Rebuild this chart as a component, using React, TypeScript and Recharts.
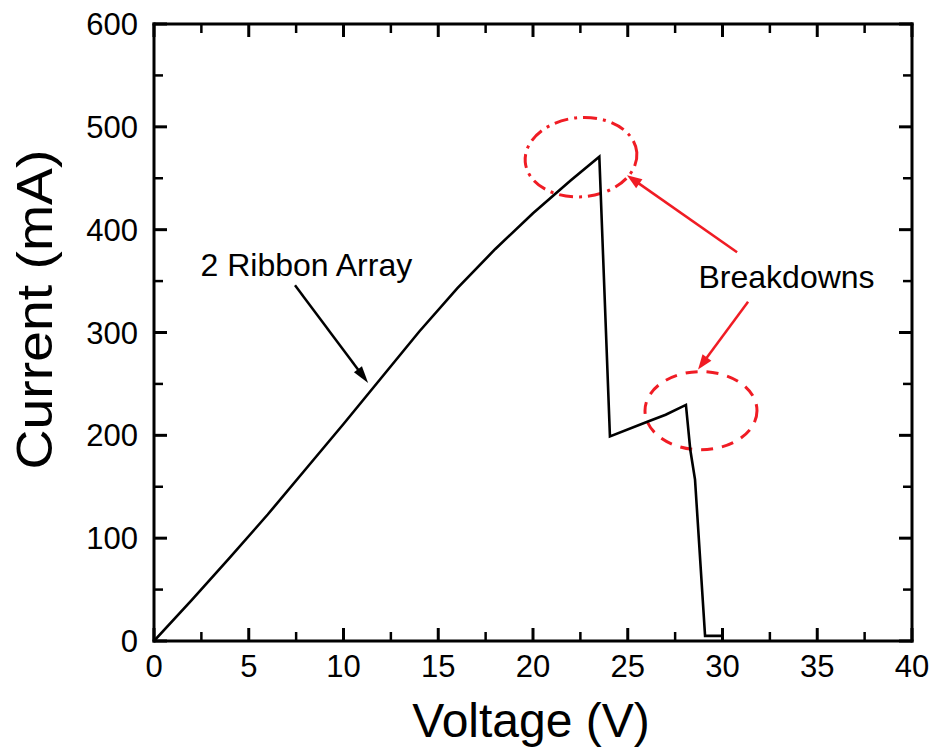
import React from 'react';
import { LineChart, Line, XAxis, YAxis, ReferenceLine, ReferenceArea, ReferenceDot, Label } from 'recharts';

const voltage = [0, 2, 4, 6, 8, 10, 12, 14, 16, 18, 20, 22, 23.5, 24.06, 26, 27, 28.07, 28.3, 28.55, 29.08, 30];
const current = [0, 40, 81, 123, 167, 211, 256, 301, 343, 381, 416, 448, 471, 199, 213, 220, 229.6, 186, 157, 5, 5];

const xMajorTicks = [0, 5, 10, 15, 20, 25, 30, 35, 40];
const xMinorTicks = [2.5, 7.5, 12.5, 17.5, 22.5, 27.5, 32.5, 37.5];
const yMajorTicks = [0, 100, 200, 300, 400, 500, 600];
const yMinorTicks = [50, 150, 250, 350, 450, 550];

const xTitle = 'Voltage (V)';
const yTitle = 'Current (mA)';
const seriesNote = '2 Ribbon Array';
const breakNote = 'Breakdowns';

// annotation anchors (data units: volts, mA)
const seriesNoteAt = { v: 8.04, i: 355 };
const breakNoteAt = { v: 33.38, i: 343 };
const seriesArrow = [{ x: 7.44, y: 346 }, { x: 11.3, y: 251 }];
const breakArrow1 = [{ x: 30.77, y: 378 }, { x: 24.96, y: 453 }];
const breakArrow2 = [{ x: 31.35, y: 330 }, { x: 28.71, y: 264 }];
const ellipse1 = { x1: 19.58, x2: 25.49, y1: 432, y2: 509 };
const ellipse2 = { x1: 25.91, x2: 31.82, y1: 186, y2: 262 };

const data = voltage.map((v, k) => ({ v, i: current[k] }));

const FONT = '"Liberation Sans", Arial, sans-serif';
const RED = '#f01c24';

const arrowShape = (color: string, headLen: number, headHalf: number, w: number) => (p: any) => {
  const { x1, y1, x2, y2 } = p;
  const dx = x2 - x1, dy = y2 - y1;
  const len = Math.hypot(dx, dy) || 1;
  const ux = dx / len, uy = dy / len;
  const bx = x2 - ux * headLen, by = y2 - uy * headLen;
  const px = -uy * headHalf, py = ux * headHalf;
  return (
    <g>
      <line x1={x1} y1={y1} x2={bx + ux * 2} y2={by + uy * 2} stroke={color} strokeWidth={w} />
      <polygon points={`${x2},${y2} ${bx + px},${by + py} ${bx - px},${by - py}`} fill={color} />
    </g>
  );
};

const ellipseShape = (dash: string, tilt: number) => (p: any) => {
  const { x, y, width, height } = p;
  const cx = x + width / 2, cy = y + height / 2;
  return (
    <ellipse cx={cx} cy={cy} rx={Math.abs(width) / 2} ry={Math.abs(height) / 2}
      transform={`rotate(${tilt} ${cx} ${cy})`}
      fill="none" stroke={RED} strokeWidth={3} strokeDasharray={dash} />
  );
};

const textShape = (txt: string) => (p: any) => (
  <text x={p.cx} y={p.cy} textAnchor="middle" fontFamily={FONT} fontSize={32} fill="#000">{txt}</text>
);

const noLabel = () => <g />;
const axisLine = { stroke: '#000', strokeWidth: 3, strokeLinecap: 'square' as const };
const majorTick = { stroke: '#000', strokeWidth: 3 };
const minorTick = { stroke: '#000', strokeWidth: 2.5 };
const tickFont = { fill: '#000', fontSize: 31, fontFamily: FONT };
const hiddenLine = { stroke: 'none', dot: false, isAnimationActive: false, dataKey: 'i', legendType: 'none' as const };

export default function App() {
  return (
    <div style={{ width: 921, height: 743, background: '#fff' }}>
      <LineChart width={921} height={743} data={data} margin={{ top: 16, right: 17, left: 0, bottom: 0 }}>
        {/* tick-only axes (inward ticks, frame) */}
        <XAxis xAxisId="bMaj" dataKey="v" orientation="bottom" mirror height={1} type="number" domain={[0, 40]} allowDataOverflow
          ticks={xMajorTicks} tick={noLabel} tickSize={13} tickLine={majorTick} axisLine={false} interval={0} />
        <XAxis xAxisId="bMin" dataKey="v" orientation="bottom" mirror height={1} type="number" domain={[0, 40]} allowDataOverflow
          ticks={xMinorTicks} tick={noLabel} tickSize={8} tickLine={minorTick} axisLine={false} interval={0} />
        <XAxis xAxisId="tMaj" dataKey="v" orientation="top" mirror height={1} type="number" domain={[0, 40]} allowDataOverflow
          ticks={xMajorTicks} tick={noLabel} tickSize={13} tickLine={majorTick} axisLine={axisLine} interval={0} />
        <XAxis xAxisId="tMin" dataKey="v" orientation="top" mirror height={1} type="number" domain={[0, 40]} allowDataOverflow
          ticks={xMinorTicks} tick={noLabel} tickSize={8} tickLine={minorTick} axisLine={false} interval={0} />
        <YAxis yAxisId="lMaj" orientation="left" mirror width={1} type="number" domain={[0, 600]} allowDataOverflow
          ticks={yMajorTicks} tick={noLabel} tickSize={13} tickLine={majorTick} axisLine={false} interval={0} />
        <YAxis yAxisId="lMin" orientation="left" mirror width={1} type="number" domain={[0, 600]} allowDataOverflow
          ticks={yMinorTicks} tick={noLabel} tickSize={8} tickLine={minorTick} axisLine={false} interval={0} />
        <YAxis yAxisId="rMaj" orientation="right" mirror width={1} type="number" domain={[0, 600]} allowDataOverflow
          ticks={yMajorTicks} tick={noLabel} tickSize={13} tickLine={majorTick} axisLine={axisLine} interval={0} />
        <YAxis yAxisId="rMin" orientation="right" mirror width={1} type="number" domain={[0, 600]} allowDataOverflow
          ticks={yMinorTicks} tick={noLabel} tickSize={8} tickLine={minorTick} axisLine={false} interval={0} />

        {/* main labelled axes */}
        <XAxis xAxisId="main" dataKey="v" type="number" domain={[0, 40]} allowDataOverflow ticks={xMajorTicks}
          height={110} tickLine={false} tickSize={8} tickMargin={6} axisLine={axisLine} tick={tickFont} interval={0}>
          <Label content={(p: any) => {
            const vb = p.viewBox;
            return (
              <text x={vb.x + vb.width / 2 - 2} y={vb.y + 96} textAnchor="middle" fontFamily={FONT} fontSize={48} fill="#000">{xTitle}</text>
            );
          }} />
        </XAxis>
        <YAxis yAxisId="main" type="number" domain={[0, 600]} allowDataOverflow ticks={yMajorTicks}
          width={146} tickLine={false} tickSize={8} tickMargin={8} axisLine={axisLine} tick={tickFont} interval={0}>
          <Label content={(p: any) => {
            const vb = p.viewBox;
            const cx = vb.x + 27;
            const cy = vb.y + vb.height / 2 - 23;
            return (
              <text x={cx} y={cy} transform={`rotate(-90 ${cx} ${cy})`} textAnchor="middle" dominantBaseline="central"
                fontFamily={FONT} fontSize={50} fill="#000" textLength={320} lengthAdjust="spacingAndGlyphs">{yTitle}</text>
            );
          }} />
        </YAxis>

        {/* invisible series so the tick-only axes get bound */}
        <Line xAxisId="bMaj" yAxisId="lMaj" {...hiddenLine} />
        <Line xAxisId="bMin" yAxisId="lMin" {...hiddenLine} />
        <Line xAxisId="tMaj" yAxisId="rMaj" {...hiddenLine} />
        <Line xAxisId="tMin" yAxisId="rMin" {...hiddenLine} />

        <Line xAxisId="main" yAxisId="main" type="linear" dataKey="i" stroke="#000" strokeWidth={2.6} dot={false}
          isAnimationActive={false} strokeLinejoin="miter" />

        <ReferenceArea xAxisId="main" yAxisId="main" {...ellipse1} ifOverflow="visible" shape={ellipseShape('14 6 3 6', -5)} />
        <ReferenceArea xAxisId="main" yAxisId="main" {...ellipse2} ifOverflow="visible" shape={ellipseShape('12 9', 0)} />

        <ReferenceLine xAxisId="main" yAxisId="main" segment={seriesArrow} ifOverflow="visible" shape={arrowShape('#000', 17, 5, 2.5)} />
        <ReferenceLine xAxisId="main" yAxisId="main" segment={breakArrow1} ifOverflow="visible" shape={arrowShape(RED, 15, 5.5, 2.5)} />
        <ReferenceLine xAxisId="main" yAxisId="main" segment={breakArrow2} ifOverflow="visible" shape={arrowShape(RED, 15, 5.5, 2.5)} />

        <ReferenceDot xAxisId="main" yAxisId="main" x={seriesNoteAt.v} y={seriesNoteAt.i} r={0} ifOverflow="visible" shape={textShape(seriesNote)} />
        <ReferenceDot xAxisId="main" yAxisId="main" x={breakNoteAt.v} y={breakNoteAt.i} r={0} ifOverflow="visible" shape={textShape(breakNote)} />
      </LineChart>
    </div>
  );
}
